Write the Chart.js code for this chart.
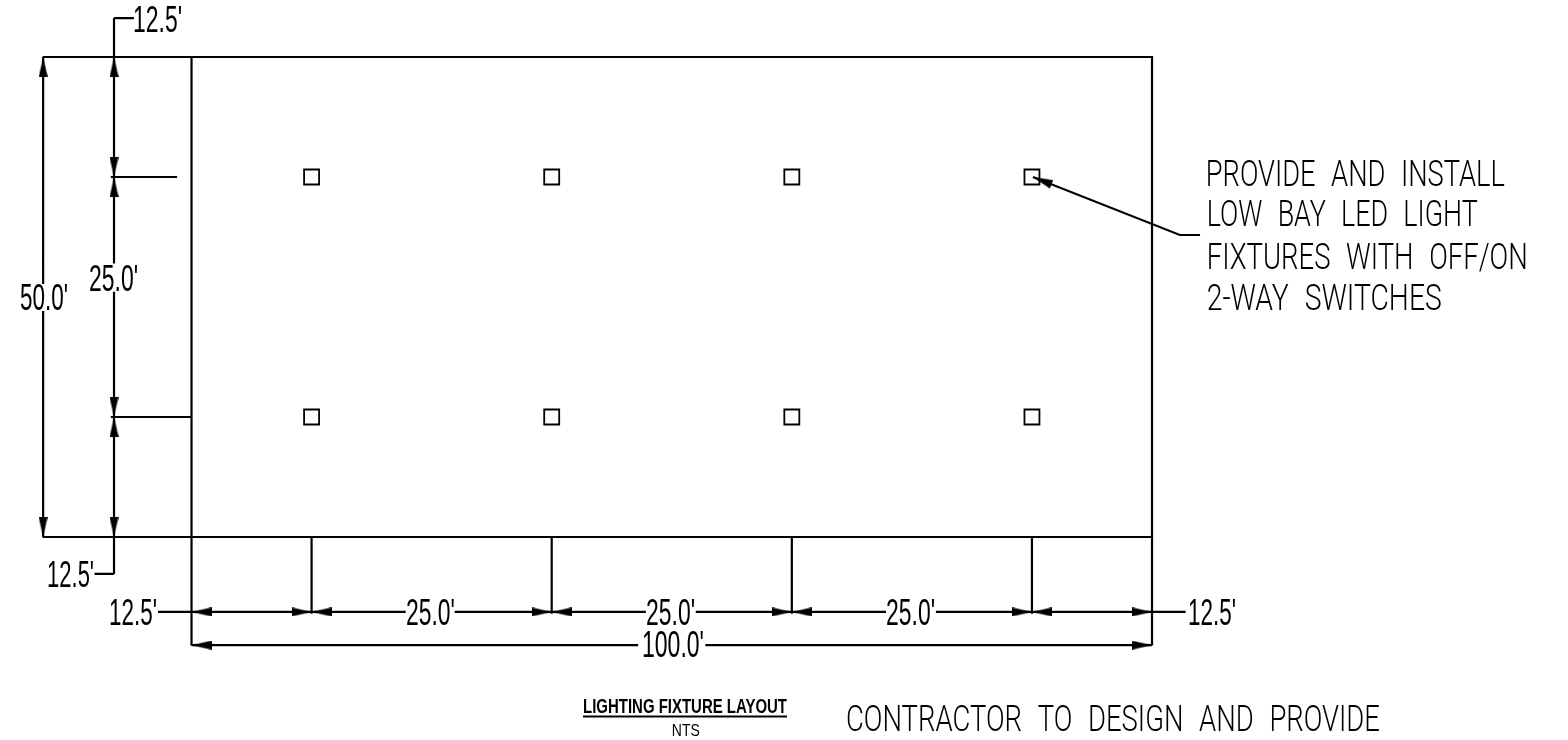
<!DOCTYPE html>
<html>
<head>
<meta charset="utf-8">
<title>Lighting Fixture Layout</title>
<script src="https://cdn.jsdelivr.net/npm/chart.js@4"></script>
<style>
	html, body { margin: 0; padding: 0; background: #fff; overflow: hidden; }
	canvas { display: block; }
</style>
</head>
<body>
<canvas id="layout" width="1568" height="740"></canvas>
<script>
// everything below is in feet
const fixtureX = [12.5, 37.5, 62.5, 87.5];
const fixtureY = [37.5, 12.5];

const buildingLine = [[0, 0], [100, 0], [100, 50], [0, 50], [0, 0]];

// x1, y1, x2, y2
const extensionLines = [
	[-15.5, 50, 0, 50],
	[-15.5, 0, 0, 0],
	[0, 0, 0, -11.3],
	[100, 0, 100, -11.3],
	[12.5, 0, 12.5, -8],
	[37.5, 0, 37.5, -8],
	[62.5, 0, 62.5, -8],
	[87.5, 0, 87.5, -8],
	[-8.4, 37.5, -1.5, 37.5],
	[-8.4, 12.5, 0, 12.5]
];

const dimensionLines = [
	[-15.45, 50, -15.45, 26.35],
	[-15.45, 23.55, -15.45, 0],
	[-6, 54.06, -8.07, 54.06],
	[-8.07, 54.06, -8.07, 28.5],
	[-8.07, 25.55, -8.07, -3.85],
	[-8.07, -3.85, -10.1, -3.85],
	[-3.49, -7.81, 22.3, -7.81],
	[27.4, -7.81, 47.3, -7.81],
	[52.5, -7.81, 72.3, -7.81],
	[77.5, -7.81, 103.5, -7.81],
	[0, -11.27, 46.5, -11.27],
	[53.5, -11.27, 100, -11.27]
];

const leaderLine = [[87.6, 37.5], [102.9, 31.46], [105, 31.46]];
const titleUnderline = [[40.76, -18.7], [62, -18.7]];

const arrowsUp = [[-15.45, 50], [-8.07, 50], [-8.07, 37.5], [-8.07, 12.5]];
const arrowsDown = [[-15.45, 0], [-8.07, 37.5], [-8.07, 12.5], [-8.07, 0]];
const arrowsLeft = [[0, -7.81], [12.5, -7.81], [37.5, -7.81], [62.5, -7.81], [87.5, -7.81], [0, -11.27]];
const arrowsRight = [[12.5, -7.81], [37.5, -7.81], [62.5, -7.81], [87.5, -7.81], [100, -7.81], [100, -11.27]];
const leaderArrow = [[87.6, 37.5]];

const dimensionText = ["12.5'", "25.0'", "50.0'", "12.5'", "12.5'", "25.0'", "25.0'", "25.0'", "12.5'", "100.0'"];
const noteText = ['PROVIDE AND INSTALL', 'LOW BAY LED LIGHT', 'FIXTURES WITH OFF/ON', '2-WAY SWITCHES', 'CONTRACTOR TO DESIGN AND PROVIDE'];
const titleText = ['LIGHTING FIXTURE LAYOUT', 'NTS'];

const fontName = '"Liberation Sans Narrow", "Liberation Sans", sans-serif';
const noteFont = '300 37px Roboto, ' + fontName;

// where each string sits: left edge, baseline, width on the page
const dimensionPlace = [
	[-6.09, 52.6, 49],
	[-10.67, 25.63, 49],
	[-17.86, 23.65, 48],
	[-15.04, -5.21, 47],
	[-8.59, -9.16, 48],
	[22.33, -9.16, 49],
	[47.32, -9.16, 49],
	[72.31, -9.16, 49],
	[103.75, -9.16, 48],
	[46.9, -12.5, 62]
];
const notePlace = [
	[105.6, 36.56, 299],
	[105.7, 32.4, 271],
	[105.7, 27.9, 321],
	[105.7, 23.65, 235],
	[68.14, -20.2, 534]
];
const titlePlace = [
	[40.76, -18.33, 204],
	[50, -20.7, 28]
];

function segments(list) {
	const points = [];
	list.forEach((s) => {
		points.push({ x: s[0], y: s[1] }, { x: s[2], y: s[3] }, { x: null, y: null });
	});
	return points;
}

function toPoints(list) {
	return list.map((p) => ({ x: p[0], y: p[1] }));
}

function lineSet(data) {
	return {
		data: data,
		showLine: true,
		spanGaps: false,
		borderColor: '#000',
		borderWidth: 2.2,
		pointRadius: 0,
		tension: 0
	};
}

// filled arrowhead, tip in the middle of the sprite so the point sits on the tip
function arrowSprite() {
	const c = document.createElement('canvas');
	c.width = 9;
	c.height = 40;
	const g = c.getContext('2d');
	g.fillStyle = '#000';
	g.beginPath();
	g.moveTo(4.5, 20);
	g.lineTo(9, 40);
	g.lineTo(0, 40);
	g.closePath();
	g.fill();
	return c;
}

const sprite = arrowSprite();

function arrowSet(list, rotation) {
	return {
		data: toPoints(list),
		showLine: false,
		pointStyle: sprite,
		pointRadius: 5,
		pointRotation: rotation
	};
}

const fixturePoints = [];
fixtureY.forEach((y) => {
	fixtureX.forEach((x) => {
		fixturePoints.push({ x: x, y: y });
	});
});

const textPlugin = {
	id: 'drawingText',
	afterDatasetsDraw: function (chart) {
		const ctx = chart.ctx;
		const xs = chart.scales.x;
		const ys = chart.scales.y;

		function put(text, place, font, gap) {
			ctx.save();
			ctx.font = font;
			ctx.wordSpacing = gap;
			ctx.fillStyle = '#000';
			ctx.textBaseline = 'alphabetic';
			ctx.textAlign = 'left';
			const k = place[2] / ctx.measureText(text).width;
			ctx.translate(xs.getPixelForValue(place[0]), ys.getPixelForValue(place[1]));
			ctx.scale(k, 1);
			ctx.fillText(text, 0, 0);
			ctx.restore();
		}

		dimensionText.forEach((t, i) => put(t, dimensionPlace[i], '36px ' + fontName, '0px'));
		noteText.forEach((t, i) => put(t, notePlace[i], noteFont, '12px'));
		put(titleText[0], titlePlace[0], 'bold 21px ' + fontName, '0px');
		put(titleText[1], titlePlace[1], '17px ' + fontName, '0px');
	}
};

new Chart(document.getElementById('layout'), {
	type: 'scatter',
	data: {
		datasets: [
			lineSet(toPoints(buildingLine)),
			lineSet(segments(extensionLines)),
			lineSet(segments(dimensionLines)),
			lineSet(toPoints(leaderLine)),
			lineSet(toPoints(titleUnderline)),
			arrowSet(arrowsUp, 0),
			arrowSet(arrowsDown, 180),
			arrowSet(arrowsLeft, 270),
			arrowSet(arrowsRight, 90),
			arrowSet(leaderArrow, 291.5),
			{
				data: fixturePoints,
				showLine: false,
				pointStyle: 'rect',
				pointRadius: 10.6,
				pointBorderColor: '#000',
				pointBackgroundColor: 'rgba(0,0,0,0)',
				pointBorderWidth: 1.8
			}
		]
	},
	options: {
		responsive: false,
		animation: false,
		events: [],
		layout: { padding: 0, autoPadding: false },
		scales: {
			x: { type: 'linear', display: false, min: -19.94, max: 143.31 },
			y: { type: 'linear', display: false, min: -21.15, max: 55.94 }
		},
		plugins: {
			legend: { display: false },
			title: { display: false },
			tooltip: { enabled: false }
		}
	},
	plugins: [textPlugin]
});
</script>
</body>
</html>
